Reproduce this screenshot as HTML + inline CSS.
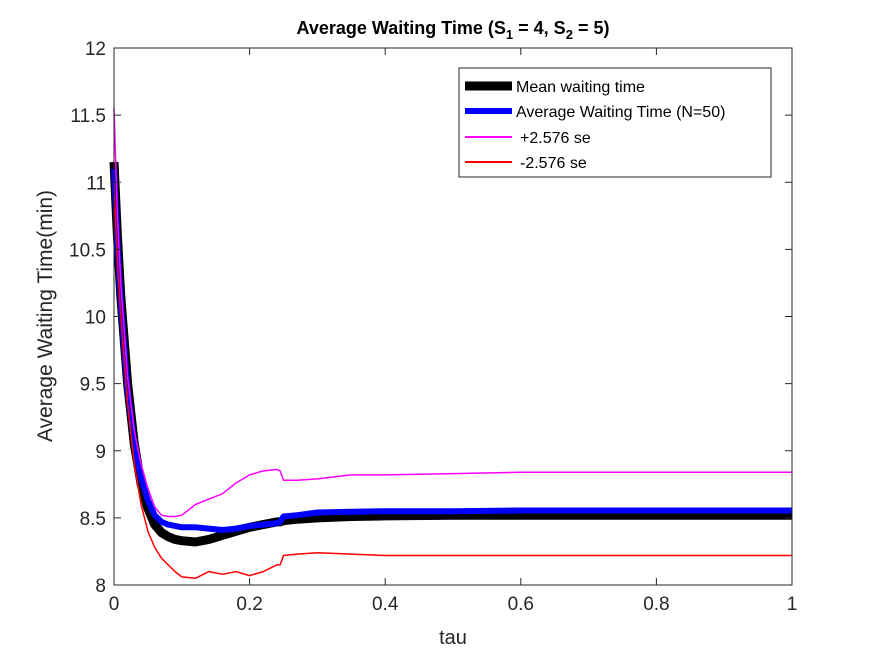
<!DOCTYPE html>
<html><head><meta charset="utf-8"><style>
body{margin:0;background:#fff;}
svg{display:block;font-family:"Liberation Sans",Arial,sans-serif;}
</style></head><body>
<svg id="chart" width="875" height="656" viewBox="0 0 875 656">
<rect x="0" y="0" width="875" height="656" fill="#fff"/>
<rect x="114" y="48" width="678" height="537" fill="#fff"/>
<g id="series"></g>
<g id="axes"></g>
<text x="453" y="34" text-anchor="middle" font-size="18" font-weight="bold" fill="#000">Average Waiting Time (S<tspan font-size="13" dy="5">1</tspan><tspan dy="-5"> = 4, S</tspan><tspan font-size="13" dy="5">2</tspan><tspan dy="-5"> = 5)</tspan></text>
<text x="453" y="644" text-anchor="middle" font-size="20" fill="#262626">tau</text>
<text transform="translate(52,316) rotate(-90)" text-anchor="middle" font-size="21" fill="#262626">Average Waiting Time(min)</text>
<g>
<rect x="459" y="68" width="312" height="109" fill="#fff" stroke="#262626" stroke-width="1"/>
<line x1="465" y1="86" x2="512" y2="86" stroke="#000" stroke-width="9"/>
<text x="516" y="92" font-size="16" fill="#000">Mean waiting time</text>
<line x1="465" y1="111" x2="512" y2="111" stroke="#0000ff" stroke-width="6"/>
<text x="516" y="117" font-size="16" fill="#000">Average Waiting Time (N=50)</text>
<line x1="465" y1="137" x2="512" y2="137" stroke="#ff00ff" stroke-width="2"/>
<text x="520" y="143" font-size="16" fill="#000">+2.576 se</text>
<line x1="465" y1="162" x2="512" y2="162" stroke="#ff0000" stroke-width="2"/>
<text x="520" y="168" font-size="16" fill="#000">-2.576 se</text>
</g>
</svg>
<script>
const tau = [0,.005,.01,.02,.03,.04,.05,.06,.07,.08,.09,.1,.12,.14,.16,.18,.2,.22,.24,.245,.25,.27,.3,.35,.4,.5,.6,1];
const meanWait = [11.15,10.6,10.15,9.5,9.05,8.75,8.57,8.45,8.39,8.36,8.34,8.33,8.32,8.34,8.37,8.40,8.43,8.45,8.47,8.47,8.48,8.49,8.50,8.51,8.515,8.52,8.52,8.52];
const avgWait = [11.1,10.55,10.1,9.45,9.05,8.8,8.63,8.52,8.47,8.45,8.44,8.43,8.43,8.42,8.41,8.42,8.44,8.45,8.46,8.47,8.51,8.52,8.54,8.545,8.55,8.55,8.555,8.555];
const upperCI = [11.55,10.75,10.25,9.55,9.15,8.9,8.72,8.58,8.52,8.51,8.51,8.52,8.6,8.64,8.68,8.76,8.82,8.85,8.86,8.85,8.78,8.78,8.79,8.82,8.82,8.83,8.84,8.84];
const lowerCI = [11.0,10.4,10.0,9.35,8.9,8.6,8.4,8.28,8.2,8.15,8.1,8.06,8.05,8.1,8.08,8.1,8.07,8.1,8.15,8.15,8.22,8.23,8.24,8.23,8.22,8.22,8.22,8.22];
const xTicks = [0,0.2,0.4,0.6,0.8,1];
const xTickLabels = ["0","0.2","0.4","0.6","0.8","1"];
const yTicks = [8,8.5,9,9.5,10,10.5,11,11.5,12];
const yTickLabels = ["8","8.5","9","9.5","10","10.5","11","11.5","12"];

const X0=114,X1=792,Y0=585,Y1=48,XMIN=0,XMAX=1,YMIN=8,YMAX=12;
function xs(v){return X0+(v-XMIN)/(XMAX-XMIN)*(X1-X0);}
function ys(v){return Y0-(v-YMIN)/(YMAX-YMIN)*(Y0-Y1);}
const NS="http://www.w3.org/2000/svg";
const sg=document.getElementById('series');
function drawLine(vals,color,w,name){
  const p=document.createElementNS(NS,'polyline');
  p.setAttribute('points',tau.map((t,i)=>xs(t).toFixed(1)+','+ys(vals[i]).toFixed(1)).join(' '));
  p.setAttribute('fill','none');p.setAttribute('stroke',color);p.setAttribute('stroke-width',w);
  p.setAttribute('stroke-linejoin','round');
  
  
  sg.appendChild(p);
}
drawLine(meanWait,'#000',9,'mean-waiting-time-line');
drawLine(avgWait,'#0000ff',6,'average-waiting-time-line');
drawLine(upperCI,'#ff00ff',1.5,'upper-ci-line');
drawLine(lowerCI,'#ff0000',1.5,'lower-ci-line');

const ag=document.getElementById('axes');
function el(tag,attrs){const e=document.createElementNS(NS,tag);for(const k in attrs)e.setAttribute(k,attrs[k]);ag.appendChild(e);return e;}
const box=el('rect',{x:X0,y:Y1,width:X1-X0,height:Y0-Y1,fill:'none',stroke:'#262626','stroke-width':1});


xTicks.forEach((v,i)=>{
  const x=xs(v);
  const t1=el('line',{x1:x,y1:Y0,x2:x,y2:Y0-7,stroke:'#262626'});
  
  
  const t2=el('line',{x1:x,y1:Y1,x2:x,y2:Y1+7,stroke:'#262626'});
  
  
  const tx=el('text',{x:x,y:Y0+25,'text-anchor':'middle','font-size':19,fill:'#262626'});
  tx.textContent=xTickLabels[i];
  
  
});
yTicks.forEach((v,i)=>{
  const y=ys(v);
  const t1=el('line',{x1:X0,y1:y,x2:X0+7,y2:y,stroke:'#262626'});
  
  
  const t2=el('line',{x1:X1,y1:y,x2:X1-7,y2:y,stroke:'#262626'});
  
  
  const tx=el('text',{x:X0-8,y:y+7,'text-anchor':'end','font-size':19,fill:'#262626'});
  tx.textContent=yTickLabels[i];
  
  
});
</script>
</body></html>
